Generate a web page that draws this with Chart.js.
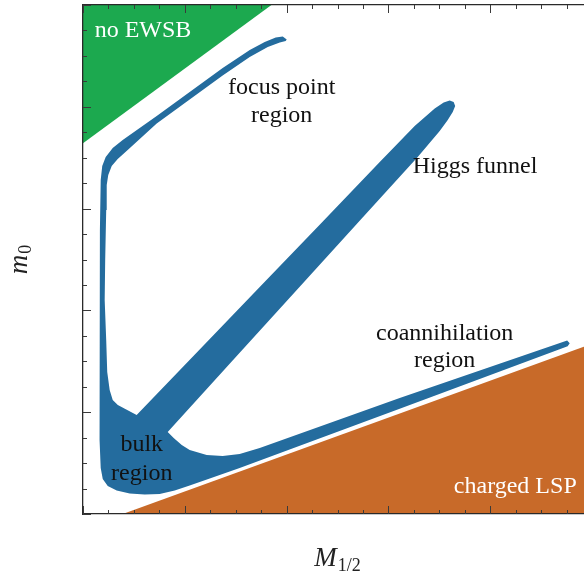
<!DOCTYPE html>
<html>
<head>
<meta charset="utf-8">
<title>mSUGRA (M1/2, m0) plane</title>
<script src="https://cdn.jsdelivr.net/npm/chart.js@4.4.0/dist/chart.umd.min.js"></script>
<style>
  html, body { margin: 0; padding: 0; background: #ffffff; overflow: hidden; }
  #wrap { width: 584px; height: 577px; overflow: hidden; position: relative; }
  canvas { display: block; }
</style>
</head>
<body>
<div id="wrap"><canvas id="plane" width="600" height="577"></canvas></div>
<script>
// Axis range (arbitrary units) and tick positions
const axisMin = 0;
const axisMax = 5;
const tickValues = [0, 0.25, 0.5, 0.75, 1, 1.25, 1.5, 1.75, 2, 2.25, 2.5, 2.75, 3,
                    3.25, 3.5, 3.75, 4, 4.25, 4.5, 4.75, 5];

// Region with no electroweak symmetry breaking (upper left)
const noEwsbX = [0, 1.851, 0];
const noEwsbY = [3.641, 5, 5];

// Region with a charged LSP (lower right)
const chargedX = [5, 0.39, 5];
const chargedY = [0, 0, 1.673];

// Outline of the region with the right relic density:
// focus point strip -> bulk -> coannihilation strip -> Higgs funnel -> back
const relicX = [
  2.001, 1.962, 1.893, 1.785, 1.638, 1.372, 1.048, 0.724, 0.390, 0.292,
  0.223, 0.189, 0.174, 0.166, 0.161, 0.161, 0.166, 0.174, 0.194, 0.243,
  0.331, 0.459, 0.606, 0.753, 0.901, 1.048, 1.245, 1.441, 1.539, 3.111,
  4.761, 4.781, 4.756, 3.111, 1.736, 1.539, 1.372, 1.215, 1.048, 0.970,
  0.891, 0.832, 1.441, 2.129, 2.718, 3.288, 3.504, 3.583, 3.632, 3.656,
  3.641, 3.602, 3.543, 3.455, 3.258, 2.915, 2.325, 1.736, 1.146, 0.527,
  0.342, 0.292, 0.262, 0.238, 0.228, 0.213, 0.218, 0.228, 0.233, 0.248,
  0.282, 0.341, 0.439, 0.724, 1.048, 1.372, 1.638, 1.815, 1.933, 1.991
];
const relicY = [
  4.661, 4.691, 4.681, 4.637, 4.558, 4.381, 4.145, 3.910, 3.674, 3.595,
  3.507, 3.418, 3.281, 2.790, 2.102, 1.316, 0.727, 0.452, 0.344, 0.275,
  0.231, 0.201, 0.192, 0.196, 0.231, 0.280, 0.349, 0.417, 0.452, 1.033,
  1.647, 1.677, 1.704, 1.139, 0.648, 0.589, 0.570, 0.580, 0.629, 0.678,
  0.747, 0.806, 1.475, 2.232, 2.880, 3.507, 3.762, 3.870, 3.949, 4.008,
  4.047, 4.062, 4.042, 3.983, 3.811, 3.458, 2.842, 2.230, 1.616, 0.972,
  1.071, 1.120, 1.218, 1.395, 1.709, 2.102, 2.495, 2.986, 3.232, 3.330,
  3.418, 3.487, 3.576, 3.836, 4.072, 4.308, 4.489, 4.588, 4.632, 4.647
];

// Region labels, placed in data units
const regionLabels = [
  { text: 'no EWSB',        x: 0.115, y: 4.686, align: 'left',   color: '#ffffff' },
  { text: 'focus point',    x: 1.952, y: 4.126, align: 'center', color: '#111111' },
  { text: 'region',         x: 1.952, y: 3.851, align: 'center', color: '#111111' },
  { text: 'Higgs funnel',   x: 3.239, y: 3.350, align: 'left',   color: '#111111' },
  { text: 'coannihilation', x: 3.553, y: 1.709, align: 'center', color: '#111111' },
  { text: 'region',         x: 3.553, y: 1.444, align: 'center', color: '#111111' },
  { text: 'bulk',           x: 0.577, y: 0.619, align: 'center', color: '#111111' },
  { text: 'region',         x: 0.577, y: 0.334, align: 'center', color: '#111111' },
  { text: 'charged LSP',    x: 4.850, y: 0.206, align: 'right',  color: '#ffffff' }
];

const GREEN = '#1ca94f';
const ORANGE = '#c86a29';
const BLUE = '#246c9e';
const AXIS = '#2a2a2a';
const SERIF = '"Liberation Serif", "Times New Roman", serif';

function toPoints(xs, ys) {
  return xs.map((x, i) => ({ x: x, y: ys[i] }));
}

function polygon(label, xs, ys, color) {
  return {
    label: label,
    data: toPoints(xs, ys),
    backgroundColor: color,
    borderColor: color,
    borderWidth: 0,
    pointRadius: 0,
    tension: 0,
    fill: 'shape'
  };
}

function axisOptions(position) {
  return {
    type: 'linear',
    position: position,
    min: axisMin,
    max: axisMax,
    afterBuildTicks: (scale) => { scale.ticks = tickValues.map(v => ({ value: v })); },
    ticks: { display: false },
    grid: { display: false, drawTicks: false },
    border: { display: true, color: AXIS, width: 1.3, z: 1 }
  };
}

// Inward tick marks on all four sides, plus labels and axis titles
const decorations = {
  id: 'decorations',
  afterDraw(chart) {
    const ctx = chart.ctx;
    const area = chart.chartArea;
    ctx.save();

    // region labels
    ctx.font = '24px ' + SERIF;
    ctx.textBaseline = 'alphabetic';
    regionLabels.forEach(l => {
      ctx.fillStyle = l.color;
      ctx.textAlign = l.align;
      ctx.fillText(l.text, chart.scales.x.getPixelForValue(l.x), chart.scales.y.getPixelForValue(l.y));
    });

    // tick marks
    ctx.strokeStyle = '#3a3a3a';
    ctx.lineWidth = 1;
    ['x', 'x2', 'y', 'y2'].forEach(id => {
      const scale = chart.scales[id];
      scale.ticks.forEach(t => {
        const major = Math.abs(t.value - Math.round(t.value)) < 1e-9;
        const len = major ? 8 : 4;
        const p = Math.round(scale.getPixelForValue(t.value)) + 0.5;
        ctx.beginPath();
        if (id === 'x') { ctx.moveTo(p, area.bottom); ctx.lineTo(p, area.bottom - len); }
        if (id === 'x2') { ctx.moveTo(p, area.top); ctx.lineTo(p, area.top + len); }
        if (id === 'y') { ctx.moveTo(area.left, p); ctx.lineTo(area.left + len, p); }
        if (id === 'y2') { ctx.moveTo(area.right, p); ctx.lineTo(area.right - len, p); }
        ctx.stroke();
      });
    });

    // x axis title: M_{1/2}
    ctx.fillStyle = '#222222';
    ctx.textAlign = 'left';
    const mainFont = 'italic 27px ' + SERIF;
    const subFont = '18px ' + SERIF;
    ctx.font = mainFont;
    const wM = ctx.measureText('M').width;
    ctx.font = subFont;
    const wSub = ctx.measureText('1/2').width;
    const cx = (area.left + area.right) / 2;
    const x0 = cx - (wM + wSub + 1) / 2;
    const base = 566;
    ctx.font = mainFont;
    ctx.fillText('M', x0, base);
    ctx.font = subFont;
    ctx.fillText('1/2', x0 + wM + 1, base + 5);

    // y axis title: m_0
    ctx.save();
    ctx.translate(27, (area.top + area.bottom) / 2);
    ctx.rotate(-Math.PI / 2);
    ctx.font = mainFont;
    const wm = ctx.measureText('m').width;
    ctx.font = subFont;
    const w0 = ctx.measureText('0').width;
    const y0 = -(wm + w0 + 1) / 2;
    ctx.font = mainFont;
    ctx.fillText('m', y0, 0);
    ctx.font = subFont;
    ctx.fillText('0', y0 + wm + 1, 4);
    ctx.restore();

    ctx.restore();
  }
};

new Chart(document.getElementById('plane'), {
  type: 'line',
  data: {
    datasets: [
      polygon('no EWSB', noEwsbX, noEwsbY, GREEN),
      polygon('charged LSP', chargedX, chargedY, ORANGE),
      polygon('relic density', relicX, relicY, BLUE)
    ]
  },
  options: {
    responsive: false,
    animation: false,
    events: [],
    layout: { padding: { left: 83, top: 5, right: 8, bottom: 63 } },
    plugins: { legend: { display: false }, tooltip: { enabled: false } },
    scales: {
      x: axisOptions('bottom'),
      y: axisOptions('left'),
      x2: axisOptions('top'),
      y2: axisOptions('right')
    }
  },
  plugins: [decorations]
});
</script>
</body>
</html>
